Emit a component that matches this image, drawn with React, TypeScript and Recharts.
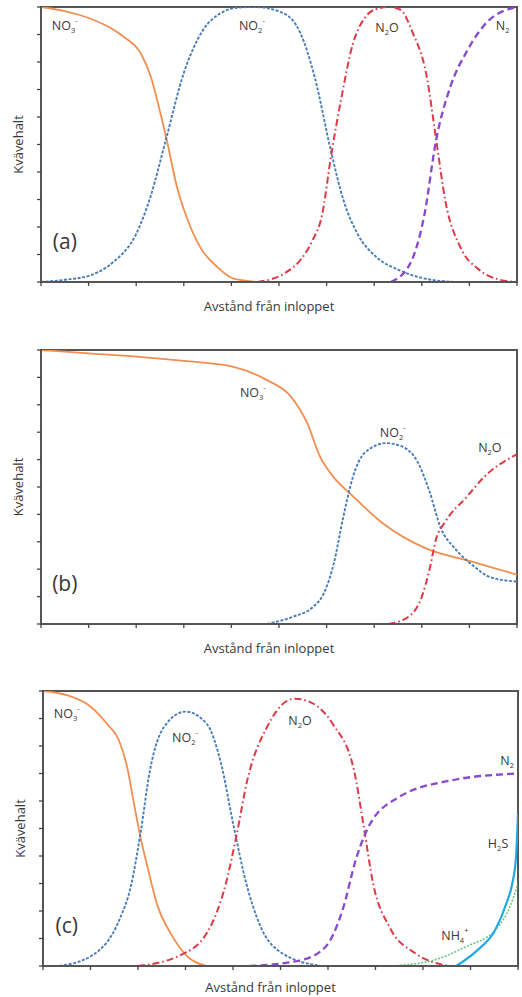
import React from "react";
import { LineChart, Line, XAxis, YAxis, ReferenceArea, ReferenceDot } from "recharts";

// x = avstånd (0–10), y = kvävehalt (0–10)
const xTicks = [0, 1, 2, 3, 4, 5, 6, 7, 8, 9, 10];
const yTicks = [0, 1, 2, 3, 4, 5, 6, 7, 8, 9, 10];

// (a)
const aNO3 = [[0, 10], [0.5, 9.85], [1, 9.6], [1.5, 9.2], [1.75, 8.9], [2.1, 8.3], [2.3, 7.5], [2.5, 6.2], [2.65, 5.1], [2.85, 3.5], [3.05, 2.4], [3.35, 1.25], [3.7, 0.55], [4.05, 0.12], [4.55, 0]];
const aNO2 = [[0, 0], [0.5, 0.08], [1.03, 0.24], [1.5, 0.7], [2.0, 1.75], [2.3, 3.1], [2.62, 5.15], [3.0, 7.6], [3.4, 9.15], [3.8, 9.8], [4.1, 9.97], [4.5, 10], [5.1, 9.77], [5.45, 9.05], [5.75, 7.45], [6.1, 4.7], [6.35, 3.0], [6.65, 1.75], [7.05, 0.9], [7.5, 0.45], [8.0, 0.15], [8.7, 0]];
const aN2O = [[4.55, 0], [5.1, 0.3], [5.45, 0.8], [5.7, 1.5], [5.9, 2.4], [6.1, 4.65], [6.3, 6.6], [6.55, 8.65], [6.8, 9.6], [7.0, 9.9], [7.3, 10], [7.55, 9.9], [7.8, 9.1], [8.1, 7.5], [8.3, 5.2], [8.5, 2.9], [8.8, 1.3], [9.2, 0.45], [9.6, 0.1], [10, 0]];
const aN2 = [[7.35, 0], [7.75, 0.65], [8.05, 2.4], [8.3, 5.15], [8.6, 7.1], [8.95, 8.4], [9.4, 9.5], [10, 10]];

// (b)
const bNO3 = [[0, 10], [1, 9.88], [2, 9.76], [3, 9.6], [4, 9.4], [4.75, 8.9], [5.25, 8.3], [5.6, 7.3], [5.85, 6.15], [6.15, 5.35], [6.5, 4.75], [7.2, 3.65], [8.1, 2.75], [9, 2.3], [10, 1.8]];
const bNO2 = [[4.75, 0], [5.3, 0.27], [5.7, 0.6], [5.95, 1.15], [6.15, 2.2], [6.35, 3.9], [6.55, 5.35], [6.8, 6.25], [7.25, 6.6], [7.55, 6.5], [7.9, 5.95], [8.15, 4.9], [8.4, 3.5], [8.7, 2.75], [9.1, 2.1], [9.45, 1.7], [10, 1.55]];
const bN2O = [[7.3, 0], [7.75, 0.3], [8.0, 1.0], [8.15, 1.9], [8.3, 3.1], [8.5, 3.75], [8.95, 4.65], [9.3, 5.35], [10, 6.2]];

// (c)
const cNO3 = [[0, 10], [0.5, 9.85], [0.95, 9.5], [1.35, 8.8], [1.6, 8.2], [1.77, 7.25], [1.9, 6.05], [2.05, 4.7], [2.2, 3.6], [2.4, 2.25], [2.7, 1.15], [3.05, 0.33], [3.45, 0]];
const cNO2 = [[0.35, 0], [1.05, 0.4], [1.6, 1.65], [1.85, 2.9], [2.05, 4.8], [2.25, 7.1], [2.55, 8.7], [3.0, 9.25], [3.45, 8.8], [3.75, 7.35], [4.0, 5.2], [4.28, 3.0], [4.55, 1.55], [5.05, 0.45], [5.85, 0]];
const cN2O = [[2.0, 0], [2.9, 0.4], [3.45, 1.2], [3.85, 3.0], [4.08, 4.8], [4.3, 6.75], [4.72, 8.7], [5.1, 9.6], [5.3, 9.72], [5.55, 9.65], [6.1, 8.8], [6.55, 7.1], [6.75, 5.1], [6.95, 3.0], [7.3, 1.4], [7.85, 0.45], [8.55, 0]];
const cN2 = [[4.35, 0], [5.4, 0.2], [5.95, 0.7], [6.3, 2.0], [6.6, 3.95], [6.85, 5.05], [7.5, 6.15], [8.6, 6.75], [10, 7.0]];
const cNH4 = [[7.3, 0], [8.2, 0.2], [8.9, 0.7], [9.52, 1.31], [9.83, 2.15], [10, 3.0]];
const cH2S = [[8.7, 0], [9.13, 0.55], [9.52, 1.31], [9.76, 2.3], [9.88, 3.0], [9.96, 4.0], [10, 5.55]];

// etiketter: "_" = nedsänkt, "^" = upphöjt
const labelsA = [
  { text: "NO_3^-", x: 0.5, y: 9.35 },
  { text: "NO_2^-", x: 4.43, y: 9.35 },
  { text: "N_2O", x: 7.27, y: 9.27 },
  { text: "N_2", x: 9.7, y: 9.35 },
];
const labelsB = [
  { text: "NO_3^-", x: 4.45, y: 8.47 },
  { text: "NO_2^-", x: 7.39, y: 7.0 },
  { text: "N_2O", x: 9.43, y: 6.46 },
];
const labelsC = [
  { text: "NO_3^-", x: 0.5, y: 9.2 },
  { text: "NO_2^-", x: 2.99, y: 8.33 },
  { text: "N_2O", x: 5.41, y: 8.95 },
  { text: "N_2", x: 9.77, y: 7.49 },
  { text: "H_2S", x: 9.58, y: 4.47 },
  { text: "NH_4^+", x: 8.67, y: 1.13 },
];

const FONT = "'Open Sans', Lato, sans-serif";
const TEXT = "#383838";
const FRAME = "#555";

const STYLE: Record<string, { color: string; dash?: string; width: number }> = {
  NO3: { color: "#F28E50", width: 1.8 },
  NO2: { color: "#4A7CB8", dash: "3 1.6", width: 1.9 },
  N2O: { color: "#DD3A46", dash: "7 3 1.6 3", width: 2 },
  N2: { color: "#8848D0", dash: "7 4", width: 2.3 },
  NH4: { color: "#5CC878", dash: "2 1.5", width: 1.5 },
  H2S: { color: "#1EA8E8", width: 2.2 },
};

const toPts = (arr: number[][]) => arr.map(([x, y]) => ({ x, y }));

function Formula({ cx, cy, text, size }: { cx?: number; cy?: number; text: string; size: number }) {
  const parts: React.ReactNode[] = [];
  for (let i = 0; i < text.length; i++) {
    const ch = text[i];
    if ((ch === "_" || ch === "^") && i + 1 < text.length) {
      parts.push(
        <tspan key={i} fontSize={size * 0.6} baselineShift={ch === "_" ? "sub" : "super"}>
          {text[i + 1]}
        </tspan>
      );
      i++;
    } else {
      parts.push(<tspan key={i}>{ch}</tspan>);
    }
  }
  return (
    <text x={cx} y={cy} textAnchor="middle" dominantBaseline="central" fontFamily={FONT} fontSize={size} fill={TEXT}>
      {parts}
    </text>
  );
}

type Series = { key: string; pts: number[][] };

function Panel({
  top,
  height,
  margin,
  series,
  labels,
  tag,
  xTitleGap = 24,
}: {
  top: number;
  height: number;
  margin: { top: number; right: number; left: number; bottom: number };
  series: Series[];
  labels: { text: string; x: number; y: number }[];
  tag: string;
  xTitleGap?: number;
}) {
  return (
    <div style={{ position: "absolute", top, left: 0 }}>
      <LineChart width={522} height={height} margin={margin}>
        <XAxis
          type="number"
          dataKey="x"
          domain={[0, 10]}
          ticks={xTicks}
          height={30}
          tickSize={4}
          tickFormatter={() => ""}
          axisLine={{ stroke: FRAME, strokeWidth: 2 }}
          tickLine={{ stroke: "#444", strokeWidth: 1.3 }}
          allowDataOverflow
          label={{
            content: (p: any) => (
              <text
                x={p.viewBox.x + p.viewBox.width / 2 - 10}
                y={p.viewBox.y + xTitleGap}
                textAnchor="middle"
                dominantBaseline="central"
                fontFamily={FONT}
                fontSize={13}
                fill={TEXT}
              >
                Avstånd från inloppet
              </text>
            ),
          }}
        />
        <YAxis
          type="number"
          dataKey="y"
          domain={[0, 10]}
          ticks={yTicks}
          width={30}
          tickSize={4}
          tickFormatter={() => ""}
          axisLine={{ stroke: FRAME, strokeWidth: 2 }}
          tickLine={{ stroke: "#444", strokeWidth: 1.3 }}
          allowDataOverflow
          label={{
            content: (p: any) => {
              const x = p.viewBox.x + 7;
              const y = p.viewBox.y + p.viewBox.height / 2;
              return (
                <text
                  x={x}
                  y={y}
                  transform={`rotate(-90, ${x}, ${y})`}
                  textAnchor="middle"
                  dominantBaseline="central"
                  fontFamily={FONT}
                  fontSize={13}
                  fill={TEXT}
                >
                  Kvävehalt
                </text>
              );
            },
          }}
        />
        <ReferenceArea x1={0} x2={10} y1={0} y2={10} fill="none" fillOpacity={0} stroke={FRAME} strokeWidth={2} />
        {series.map((s) => {
          const st = STYLE[s.key];
          return (
            <Line
              key={s.key}
              data={toPts(s.pts)}
              dataKey="y"
              type="monotone"
              stroke={st.color}
              strokeWidth={st.width}
              strokeDasharray={st.dash}
              dot={false}
              activeDot={false}
              isAnimationActive={false}
            />
          );
        })}
        {labels.map((l, i) => (
          <ReferenceDot
            key={i}
            x={l.x}
            y={l.y}
            r={0}
            shape={(p: any) => <Formula cx={p.cx} cy={p.cy} text={l.text} size={12.5} />}
          />
        ))}
        <ReferenceDot
          x={0.5}
          y={1.5}
          r={0}
          shape={(p: any) => <Formula cx={p.cx} cy={p.cy} text={tag} size={21} />}
        />
      </LineChart>
    </div>
  );
}

export default function App() {
  return (
    <div style={{ position: "absolute", top: 0, left: 0, width: 522, height: 997, background: "#fff" }}>
      <Panel
        top={0}
        height={320}
        margin={{ top: 7, right: 5, left: 11, bottom: 8 }}
        series={[
          { key: "NO3", pts: aNO3 },
          { key: "NO2", pts: aNO2 },
          { key: "N2O", pts: aN2O },
          { key: "N2", pts: aN2 },
        ]}
        labels={labelsA}
        tag="(a)"
      />
      <Panel
        top={330}
        height={330}
        margin={{ top: 20, right: 5, left: 11, bottom: 6 }}
        series={[
          { key: "NO3", pts: bNO3 },
          { key: "NO2", pts: bNO2 },
          { key: "N2O", pts: bN2O },
        ]}
        labels={labelsB}
        tag="(b)"
      />
      <Panel
        top={670}
        height={327}
        margin={{ top: 21, right: 4, left: 13, bottom: 1 }}
        xTitleGap={21}
        series={[
          { key: "NO3", pts: cNO3 },
          { key: "NO2", pts: cNO2 },
          { key: "N2O", pts: cN2O },
          { key: "N2", pts: cN2 },
          { key: "NH4", pts: cNH4 },
          { key: "H2S", pts: cH2S },
        ]}
        labels={labelsC}
        tag="(c)"
      />
    </div>
  );
}
